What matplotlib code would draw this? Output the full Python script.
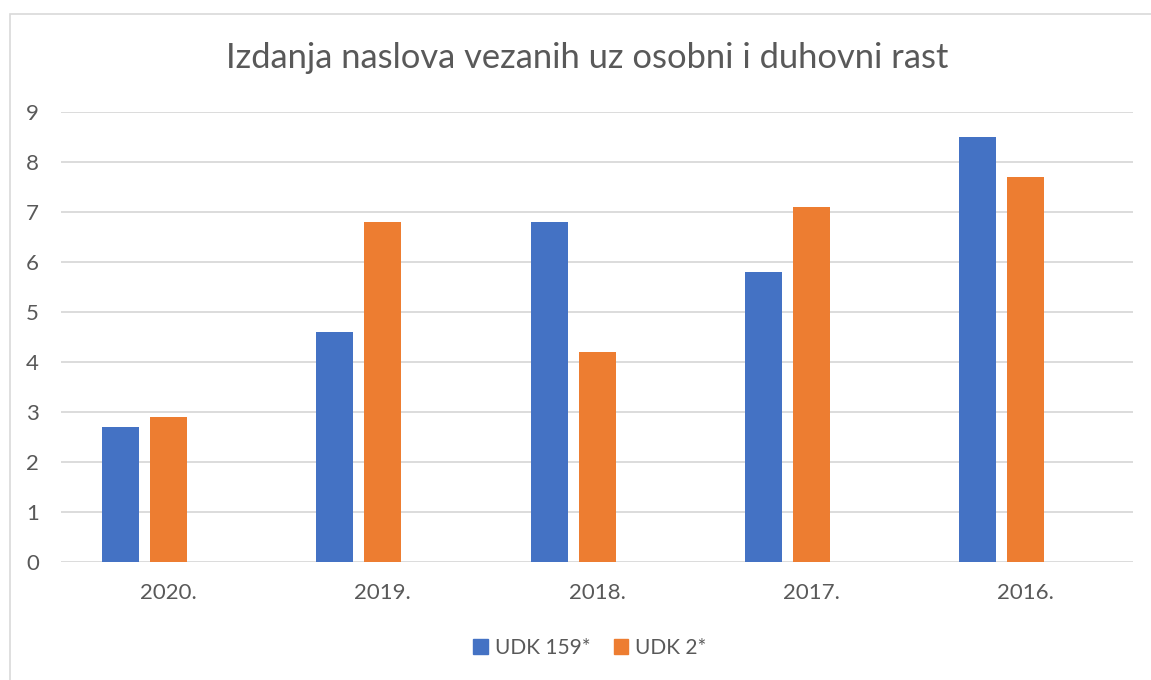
import matplotlib
matplotlib.use("Agg")
import matplotlib.pyplot as plt
import numpy as np
from matplotlib.patches import Rectangle

categories = ["2020.", "2019.", "2018.", "2017.", "2016."]
udk159 = [2.7, 4.6, 6.8, 5.8, 8.5]
udk2 = [2.9, 6.8, 4.2, 7.1, 7.7]
series_names = ["UDK 159*", "UDK 2*"]
title = "Izdanja naslova vezanih uz osobni i duhovni rast"

plt.rcParams['font.family'] = ['Lato', 'DejaVu Sans']
TXT = "#595959"
BLUE = "#4472C4"
ORANGE = "#ED7D31"

W, H = 1151, 680
fig = plt.figure(figsize=(W / 100, H / 100), dpi=100)
ax = fig.add_axes([61 / W, (H - 562) / H, (1133 - 61) / W, (562 - 112) / H])

x = np.arange(len(categories))
bw = 37 / 214.4
off = 48 / 214.4
ax.bar(x - off, udk159, width=bw, color=BLUE, label=series_names[0], zorder=3)
ax.bar(x, udk2, width=bw, color=ORANGE, label=series_names[1], zorder=3)

ax.set_xlim(-0.5, 4.5)
ax.set_ylim(0, 9)
ax.set_yticks(range(0, 10))
ax.set_xticks(x)
ax.set_xticklabels(categories)
ax.grid(axis='y', color="#D9D9D9", linewidth=1.3, zorder=0)
for s in ax.spines.values():
    s.set_visible(False)
ax.tick_params(axis='both', length=0, colors=TXT, labelsize=16)
ax.tick_params(axis='y', pad=16)
ax.tick_params(axis='x', pad=15)

fig.text(587 / W, 1 - 58 / H, title, ha='center', va='center', fontsize=24.8, color=TXT)

handles = [Rectangle((0, 0), 1, 1, color=BLUE), Rectangle((0, 0), 1, 1, color=ORANGE)]
fig.legend(handles, series_names, loc='center', bbox_to_anchor=(590 / W, 1 - 648 / H),
           ncol=2, frameon=False, fontsize=15, labelcolor=TXT, handlelength=0.7,
           handleheight=0.7, handletextpad=0.35, columnspacing=1.1)

border = Rectangle((9.5 / W, -0.1), 1.2, 1 - 13.5 / H + 0.1, transform=fig.transFigure,
                   fill=False, edgecolor="#D9D9D9", linewidth=1.2)
fig.patches.append(border)

fig.savefig("out.png", dpi=100)
